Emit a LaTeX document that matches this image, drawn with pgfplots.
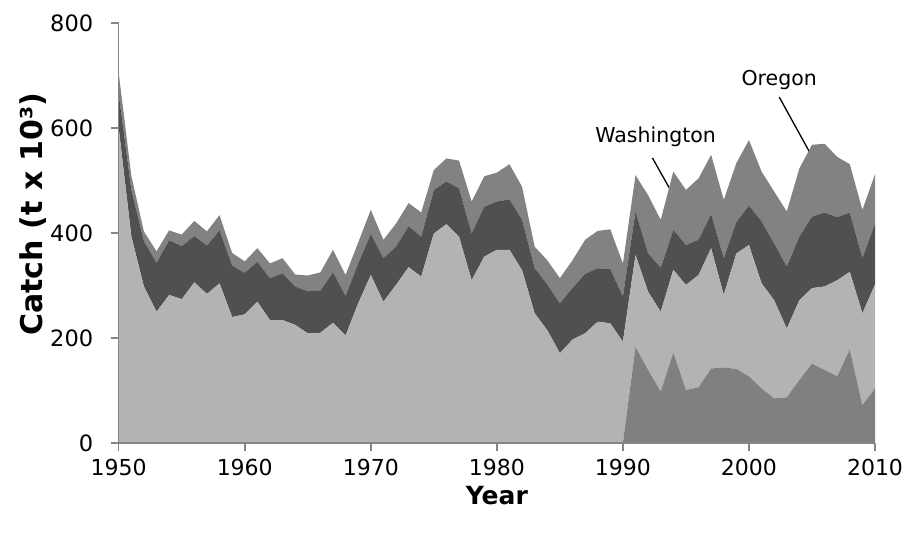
\documentclass[border=0pt]{standalone}
\usepackage{pgfplots}
\pgfplotsset{compat=1.18}
\usepackage{pgfplotstable}
\usepackage{fontspec}
\setmainfont{DejaVu Sans}
\definecolor{calc}{HTML}{B3B3B3}
\definecolor{washc}{HTML}{505050}
\definecolor{orec}{HTML}{828282}
\definecolor{seac}{HTML}{808080}
\definecolor{axgray}{HTML}{868686}
\pgfplotstableread{
year sea cal wash ore
1950 0 600 65 40
1951 0 394 89 26
1952 0 298 86 19
1953 0 250 93 22
1954 0 282 104 19
1955 0 274 101 22
1956 0 306 88 29
1957 0 284 92 27
1958 0 304 101 29
1959 0 240 98 24
1960 0 245 79 22
1961 0 269 76 26
1962 0 234 80 28
1963 0 234 89 29
1964 0 225 73 23
1965 0 209 80 30
1966 0 210 80 35
1967 0 229 96 43
1968 0 205 75 40
1969 0 266 76 40
1970 0 320 78 46
1971 0 269 83 35
1972 0 301 73 44
1973 0 335 78 44
1974 0 317 76 46
1975 0 399 83 38
1976 0 417 81 44
1977 0 393 92 53
1978 0 310 89 61
1979 0 355 95 58
1980 0 368 92 55
1981 0 368 96 67
1982 0 329 96 63
1983 0 247 86 41
1984 0 215 87 46
1985 0 171 95 48
1986 0 197 98 53
1987 0 209 113 65
1988 0 231 102 71
1989 0 228 103 76
1990 0 193 86 63
1991 183 175 83 69
1992 139 149 73 111
1993 98 152 84 91
1994 172 158 76 111
1995 101 200 76 105
1996 106 214 67 117
1997 142 229 65 113
1998 144 138 70 111
1999 141 220 60 112
2000 127 250 75 125
2001 104 200 118 95
2002 85 187 108 99
2003 87 131 118 105
2004 120 152 121 130
2005 151 144 136 137
2006 139 159 141 131
2007 127 183 120 115
2008 178 148 113 92
2009 72 175 105 92
2010 104 198 116 94
}\catchdata
\newcommand\annot{\fontsize{20.5}{24}\selectfont}
\begin{document}
\begin{tikzpicture}
\useasboundingbox (0,0) rectangle (909pt,538pt);
\begin{axis}[
  at={(118.7pt,95pt)}, anchor=south west,
  scale only axis, width=756.3pt, height=420pt,
  xmin=1950, xmax=2010, ymin=0, ymax=800,
  stack plots=y,
  axis x line*=bottom, axis y line*=left,
  axis line style={axgray, line width=1.5pt, -},
  xtick={1950,1960,...,2010}, ytick={0,200,...,800},
  tick align=outside, major tick length=8pt,
  tick style={axgray, line width=1.5pt},
  /pgf/number format/assume math mode=true,
  x tick label style={/pgf/number format/1000 sep={}, font=\fontsize{22}{26}\selectfont},
  xticklabel shift=5pt,
  y tick label style={font=\fontsize{22.5}{26}\selectfont},
  yticklabel shift=14pt,
  axis on top,
  clip=false,
  every axis plot/.append style={draw=none, no markers, sharp plot},
]
\addplot[fill=seac, draw=none] table[x=year, y=sea] {\catchdata} \closedcycle;
\addplot[fill=calc, draw=none] table[x=year, y=cal] {\catchdata} \closedcycle;
\addplot[fill=washc, draw=none] table[x=year, y=wash] {\catchdata} \closedcycle;
\addplot[fill=orec, draw=none] table[x=year, y=ore] {\catchdata} \closedcycle;
\node[font=\annot] at (axis cs:1969.2,107) {California};
\node[font=\annot] at (axis cs:2000.2,49.5) {At-sea\hspace{0.6em}process};
\node[font=\annot] at (axis cs:1992.6,583) {Washington};
\draw[black, line width=1.3pt] (axis cs:1992.34,543) -- (axis cs:1996.54,364);
\node[font=\annot] at (axis cs:2002.4,691) {Oregon};
\draw[black, line width=1.3pt] (axis cs:2002.4,659) -- (axis cs:2006.28,490);
\node[rotate=90, font=\fontsize{30}{34}\selectfont\bfseries] at (axis cs:1943.2,436) {Catch (t x 10³)};
\node[font=\fontsize{25}{30}\selectfont\bfseries] at (axis cs:1980,-101) {Year};
\end{axis}
\end{tikzpicture}
\end{document}
